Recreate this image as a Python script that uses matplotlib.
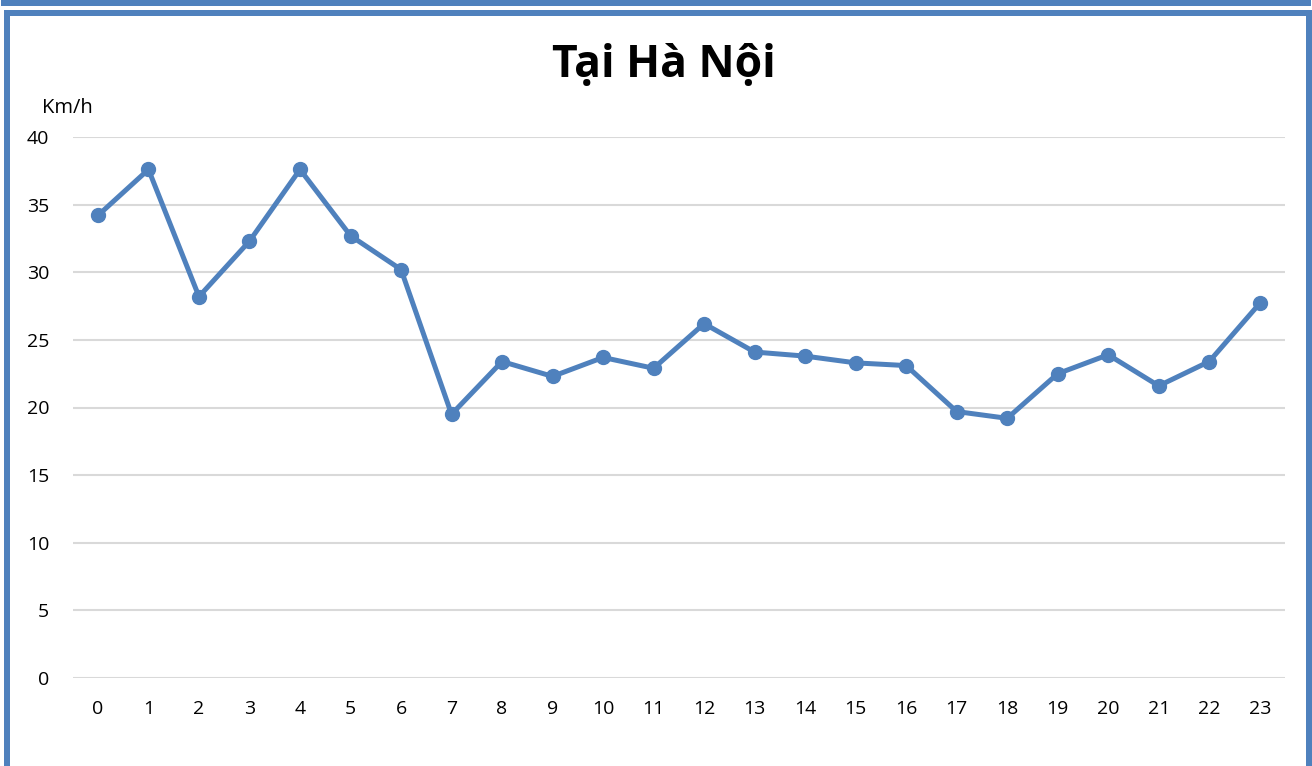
import numpy as np
import matplotlib.pyplot as plt
from matplotlib.lines import Line2D

hours = list(range(24))
speed = [34.2, 37.6, 28.2, 32.3, 37.6, 32.7, 30.2, 19.5, 23.4, 22.3, 23.7, 22.9,
         26.2, 24.1, 23.8, 23.3, 23.1, 19.7, 19.2, 22.5, 23.9, 21.6, 23.4, 27.7]
yticks = [0, 5, 10, 15, 20, 25, 30, 35, 40]

blue = '#4F81BD'
plt.rcParams['font.family'] = ['Open Sans', 'DejaVu Sans']

W, H = 1312, 766
fig = plt.figure(figsize=(W / 100, H / 100), dpi=100)

# frame lines (pixel coords -> figure fractions)
def fline(x0, y0, x1, y1, lw=6):
    fig.add_artist(Line2D([x0 / W, x1 / W], [1 - y0 / H, 1 - y1 / H],
                          color=blue, lw=lw * 0.72, solid_capstyle='butt'))

fline(3, 3, 1309, 3)
fline(4, 0, 4, 6)
fline(1308, 0, 1308, 6)
fline(6, 13, 1310, 13)
fline(7, 10, 7, 766)
fline(1309, 10, 1309, 766)

ax = fig.add_axes([72.7 / W, (H - 678) / H, (1285 - 72.7) / W, (678 - 137) / H])
ax.plot(hours, speed, color=blue, lw=3.6, marker='o', markersize=10, zorder=3)
ax.set_xlim(-0.5, 23.5)
ax.set_ylim(0, 40)
ax.set_xticks(hours)
ax.set_yticks(yticks)
ax.tick_params(length=0, labelsize=14, colors='black')
ax.tick_params(axis='y', pad=17)
ax.tick_params(axis='x', pad=16)
ax.grid(axis='y', color='#D9D9D9', lw=1.5)
ax.set_axisbelow(True)
for s in ax.spines.values():
    s.set_visible(False)

fig.text(664 / W, 1 - 65 / H, 'Tại Hà Nội', ha='center', va='center',
         fontsize=32, fontweight='bold')
fig.text(67 / W, 1 - 108 / H, 'Km/h', ha='center', va='center', fontsize=14.5)

fig.savefig('out.png', dpi=100, facecolor='white')
